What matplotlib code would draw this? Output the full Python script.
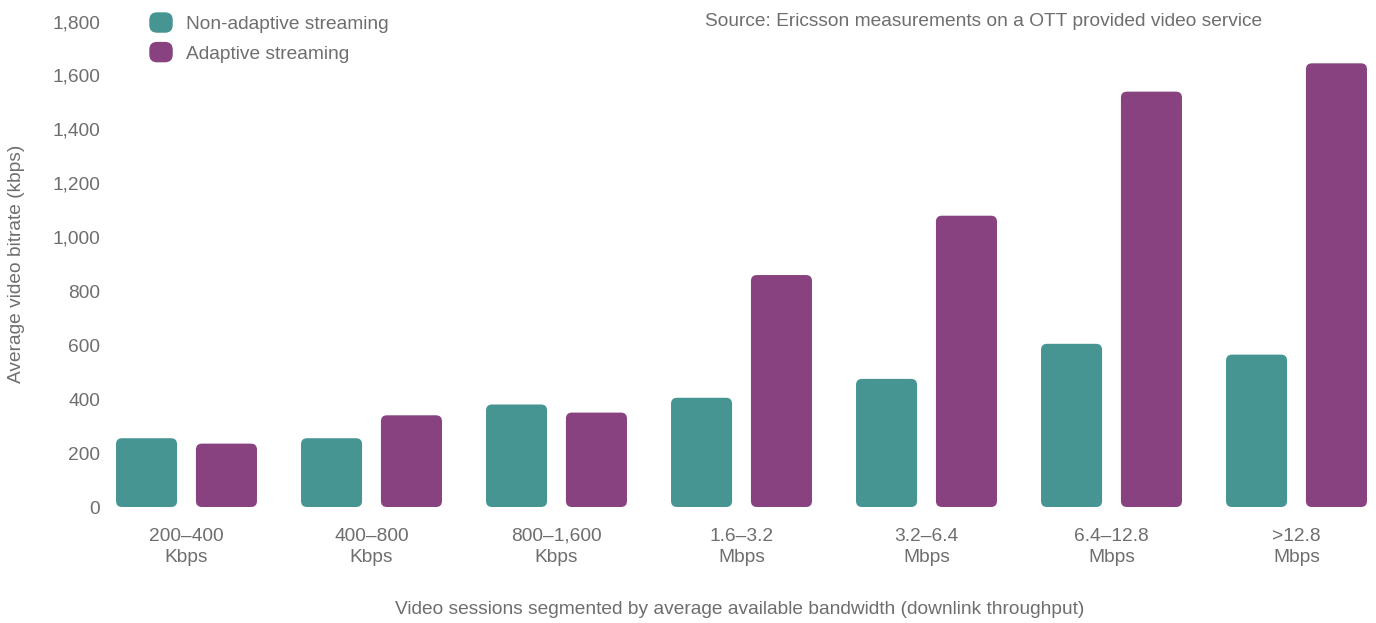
import matplotlib
matplotlib.use('Agg')
import matplotlib.pyplot as plt
import numpy as np
from matplotlib.patches import FancyBboxPatch, Patch
from matplotlib.legend_handler import HandlerPatch

# bandwidth segments and average bitrates (kbps)
segments = ['200–400\nKbps', '400–800\nKbps', '800–1,600\nKbps', '1.6–3.2\nMbps',
            '3.2–6.4\nMbps', '6.4–12.8\nMbps', '>12.8\nMbps']
non_adaptive = [255, 255, 380, 405, 475, 605, 565]
adaptive = [235, 340, 350, 860, 1080, 1540, 1645]
yticks = [0, 200, 400, 600, 800, 1000, 1200, 1400, 1600, 1800]

teal = '#479593'
purple = '#884280'
grey = '#6e6e6e'
fs = 13.8

plt.rcParams['font.family'] = ['Liberation Sans', 'DejaVu Sans']

W, H = 1376, 623
fig = plt.figure(figsize=(W / 100, H / 100), dpi=100)
ax = fig.add_axes([110 / W, 1 - 507 / H, 1260 / W, 485.5 / H])

x = np.arange(len(segments))
bw = 0.33
off = 0.216
b1 = ax.bar(x - off, non_adaptive, bw, color=teal)
b2 = ax.bar(x + off, adaptive, bw, color=purple)

ax.set_xlim((110 - 186.5) / 185, (1370 - 186.5) / 185)
ax.set_ylim(0, 1800)

# swap the plain rectangles for rounded ones
px_x = 1 / 185
px_y = 1800 / 485.5
aspect = px_y / px_x
for bars in (b1, b2):
    for r in bars:
        fb = FancyBboxPatch((r.get_x(), r.get_y()), r.get_width(), r.get_height(),
                            boxstyle='round,pad=0,rounding_size=%f' % (6 * px_x),
                            mutation_aspect=aspect, fc=r.get_facecolor(), ec='none')
        r.set_visible(False)
        ax.add_patch(fb)

ax.set_xticks(x)
ax.set_xticklabels(segments, fontsize=fs, color=grey, linespacing=1.3)
ax.set_yticks(yticks)
ax.set_yticklabels(['{:,}'.format(v) for v in yticks], fontsize=fs, color=grey)
ax.tick_params(axis='both', length=0)
ax.tick_params(axis='x', pad=15)
ax.tick_params(axis='y', pad=7)
for s in ax.spines.values():
    s.set_visible(False)

fig.text(17 / W, 1 - 264 / H, 'Average video bitrate (kbps)', rotation=90,
         ha='center', va='center', fontsize=fs, color=grey)
fig.text(740 / W, 1 - 610 / H,
         'Video sessions segmented by average available bandwidth (downlink throughput)',
         ha='center', va='center', fontsize=fs, color=grey)
fig.text(705 / W, 1 - 21 / H, 'Source: Ericsson measurements on a OTT provided video service',
         ha='left', va='center', fontsize=fs, color=grey)


def rounded(legend, orig_handle, xdescent, ydescent, width, height, fontsize):
    return FancyBboxPatch((-xdescent, -ydescent), width, height,
                          boxstyle='round,pad=0,rounding_size=5')


handles = [Patch(color=teal), Patch(color=purple)]
fig.legend(handles, ['Non-adaptive streaming', 'Adaptive streaming'],
           loc='upper left', bbox_to_anchor=(150 / W, 1 - 13 / H),
           bbox_transform=fig.transFigure, frameon=False, fontsize=fs,
           labelcolor=grey, handlelength=1.15, handleheight=1.15,
           handletextpad=0.75, labelspacing=0.5, borderpad=0, borderaxespad=0,
           handler_map={Patch: HandlerPatch(patch_func=rounded)})

fig.savefig('out.png', dpi=100)
